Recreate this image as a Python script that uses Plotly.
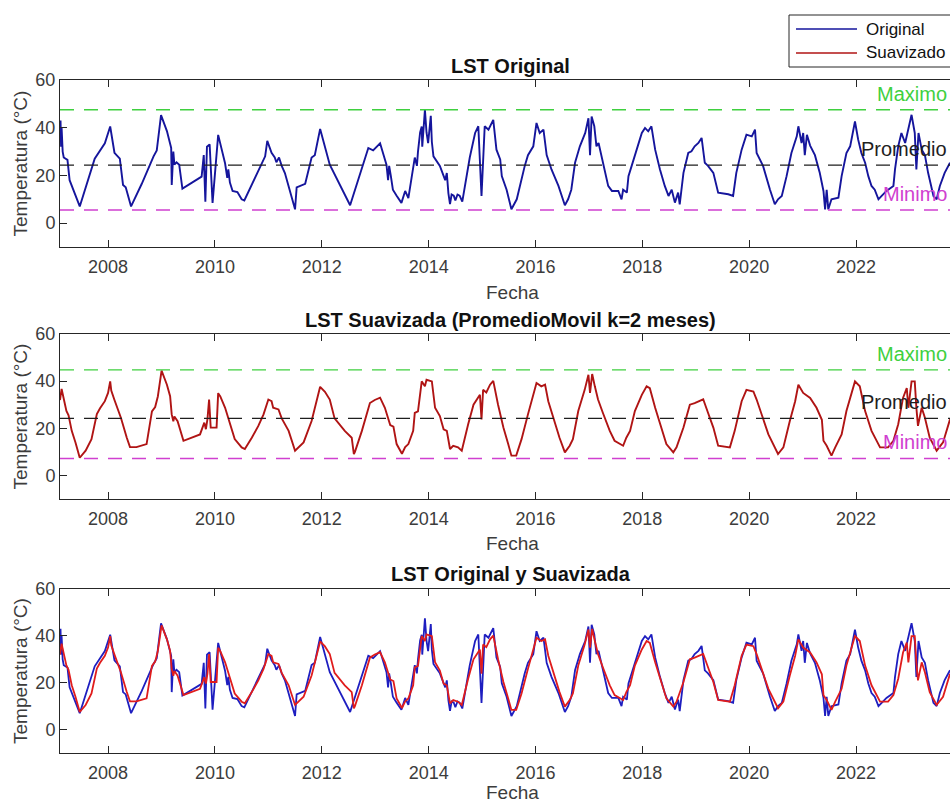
import plotly.graph_objects as go
from datetime import datetime

# ---------------- data ----------------
orig_year = [
    2007.10, 2007.11, 2007.12, 2007.13, 2007.15, 2007.17, 2007.24, 2007.28, 2007.47, 2007.75,
    2007.94, 2008.04, 2008.12, 2008.22, 2008.28, 2008.33, 2008.43, 2008.63, 2008.85, 2008.91,
    2008.99, 2009.10, 2009.18, 2009.19, 2009.22, 2009.24, 2009.28, 2009.33, 2009.39, 2009.75,
    2009.79, 2009.82, 2009.85, 2009.90, 2009.955, 2010.06, 2010.19, 2010.23, 2010.25, 2010.28,
    2010.33, 2010.42, 2010.50, 2010.55, 2010.94, 2010.98, 2011.06, 2011.12, 2011.15, 2011.20,
    2011.25, 2011.31, 2011.50, 2011.53, 2011.69, 2011.81, 2011.87, 2011.97, 2012.15, 2012.53,
    2012.87, 2012.96, 2013.09, 2013.18, 2013.21, 2013.24, 2013.26, 2013.29, 2013.33, 2013.40,
    2013.49, 2013.56, 2013.62, 2013.74, 2013.78, 2013.80, 2013.84, 2013.87, 2013.88, 2013.93,
    2013.96, 2013.99, 2014.04, 2014.06, 2014.09, 2014.21, 2014.28, 2014.31, 2014.34, 2014.37,
    2014.40, 2014.43, 2014.47, 2014.50, 2014.54, 2014.58, 2014.63, 2014.77, 2014.87, 2014.93,
    2014.99, 2015.05, 2015.12, 2015.21, 2015.27, 2015.34, 2015.37, 2015.46, 2015.55, 2015.65,
    2015.80, 2015.86, 2015.96, 2016.02, 2016.08, 2016.15, 2016.21, 2016.30, 2016.43, 2016.55,
    2016.61, 2016.67, 2016.74, 2016.83, 2016.93, 2016.99, 2017.02, 2017.05, 2017.10, 2017.14,
    2017.18, 2017.27, 2017.36, 2017.43, 2017.55, 2017.61, 2017.64, 2017.71, 2017.74, 2017.80,
    2017.92, 2017.99, 2018.05, 2018.11, 2018.17, 2018.24, 2018.33, 2018.42, 2018.49, 2018.55,
    2018.61, 2018.67, 2018.70, 2018.77, 2018.86, 2018.92, 2018.98, 2019.05, 2019.11, 2019.17,
    2019.23, 2019.33, 2019.42, 2019.61, 2019.70, 2019.76, 2019.86, 2019.95, 2020.05, 2020.11,
    2020.14, 2020.26, 2020.39, 2020.48, 2020.54, 2020.61, 2020.70, 2020.79, 2020.89, 2020.92,
    2020.98, 2021.01, 2021.04, 2021.08, 2021.14, 2021.23, 2021.32, 2021.39, 2021.42, 2021.45,
    2021.48, 2021.54, 2021.67, 2021.73, 2021.82, 2021.89, 2021.98, 2022.04, 2022.10, 2022.17,
    2022.23, 2022.29, 2022.35, 2022.42, 2022.48, 2022.57, 2022.70, 2022.73, 2022.79, 2022.85,
    2022.92, 2022.98, 2023.04, 2023.10, 2023.13, 2023.17, 2023.23, 2023.29, 2023.35, 2023.45,
    2023.51, 2023.57, 2023.66, 2023.76,
]
orig_temp = [
    35.0, 43.0, 32.0, 40.0, 30.0, 27.5, 26.5, 18.0, 7.0, 27.0,
    33.5, 40.5, 29.5, 27.0, 16.0, 15.0, 7.0, 16.5, 28.0, 30.5,
    45.3, 38.6, 31.5, 16.0, 30.0, 24.5, 25.5, 24.5, 14.5, 19.5,
    28.5, 9.0, 32.0, 33.0, 8.5, 37.0, 25.0, 19.0, 22.5, 17.0,
    13.5, 13.0, 10.0, 9.5, 28.0, 34.5, 29.5, 27.5, 25.5, 27.5,
    24.0, 21.0, 5.8, 15.0, 16.5, 27.5, 28.5, 39.5, 24.5, 7.5,
    31.5, 30.5, 33.5, 27.0, 24.5, 18.0, 24.0, 20.0, 14.0, 11.5,
    8.5, 13.5, 10.5, 27.5, 24.0, 30.0, 38.0, 40.5, 32.0, 47.5,
    38.0, 33.5, 45.0, 34.0, 28.0, 24.0, 20.0, 18.0, 21.0, 12.5,
    8.0, 12.0, 11.5, 9.5, 12.0, 11.5, 9.0, 27.5, 37.8, 40.6,
    11.4, 40.6, 39.2, 43.3, 30.8, 26.7, 19.7, 14.0, 5.8, 10.0,
    24.0, 28.5, 32.2, 42.0, 37.8, 39.2, 28.5, 22.5, 15.6, 7.5,
    10.0, 14.0, 25.3, 32.2, 37.8, 44.0, 28.5, 44.7, 40.6, 32.2,
    33.6, 24.0, 15.6, 13.5, 13.5, 10.0, 14.0, 12.8, 19.7, 24.0,
    32.2, 37.8, 39.9, 38.5, 40.6, 30.8, 22.5, 15.6, 11.4, 14.0,
    8.6, 12.8, 7.9, 21.1, 29.4, 30.1, 32.2, 33.6, 35.7, 25.3,
    24.0, 21.1, 12.8, 12.1, 11.4, 21.1, 30.8, 37.1, 36.4, 39.2,
    29.4, 24.0, 14.0, 7.9, 10.0, 11.4, 19.7, 29.4, 36.4, 40.6,
    33.6, 37.8, 28.5, 37.0, 32.5, 28.5, 21.1, 13.5, 5.8, 14.0,
    5.8, 10.0, 10.7, 19.7, 29.4, 32.2, 42.6, 35.0, 29.4, 25.3,
    19.7, 15.6, 14.0, 10.0, 11.4, 13.5, 15.6, 22.5, 32.2, 37.8,
    33.6, 39.2, 45.4, 37.8, 22.5, 37.8, 30.8, 28.5, 21.1, 11.4,
    10.0, 15.6, 21.1, 25.3,
]

smooth_year = [
    2007.10, 2007.13, 2007.17, 2007.22, 2007.26, 2007.32, 2007.39, 2007.47, 2007.58, 2007.69,
    2007.79, 2007.85, 2007.94, 2008.00, 2008.04, 2008.06, 2008.12, 2008.24, 2008.35, 2008.41,
    2008.53, 2008.72, 2008.82, 2008.88, 2008.93, 2009.00, 2009.10, 2009.16, 2009.19, 2009.22,
    2009.24, 2009.28, 2009.30, 2009.41, 2009.56, 2009.72, 2009.80, 2009.83, 2009.86, 2009.89,
    2009.92, 2009.97, 2010.03, 2010.06, 2010.10, 2010.19, 2010.25, 2010.31, 2010.37, 2010.50,
    2010.56, 2010.69, 2010.81, 2010.91, 2011.00, 2011.06, 2011.09, 2011.19, 2011.25, 2011.38,
    2011.50, 2011.66, 2011.81, 2011.97, 2012.06, 2012.15, 2012.24, 2012.43, 2012.56, 2012.60,
    2012.62, 2012.75, 2012.90, 2012.99, 2013.09, 2013.18, 2013.28, 2013.34, 2013.40, 2013.50,
    2013.56, 2013.62, 2013.71, 2013.74, 2013.80, 2013.87, 2013.93, 2013.96, 2014.06, 2014.12,
    2014.21, 2014.28, 2014.34, 2014.40, 2014.46, 2014.55, 2014.62, 2014.74, 2014.84, 2014.96,
    2014.99, 2015.02, 2015.08, 2015.15, 2015.21, 2015.30, 2015.40, 2015.49, 2015.55, 2015.64,
    2015.74, 2015.86, 2016.02, 2016.11, 2016.18, 2016.24, 2016.36, 2016.45, 2016.55, 2016.64,
    2016.70, 2016.80, 2016.92, 2016.99, 2017.02, 2017.06, 2017.11, 2017.17, 2017.26, 2017.39,
    2017.48, 2017.64, 2017.70, 2017.77, 2017.86, 2017.99, 2018.08, 2018.14, 2018.24, 2018.33,
    2018.45, 2018.58, 2018.64, 2018.77, 2018.89, 2018.98, 2019.14, 2019.23, 2019.33, 2019.42,
    2019.64, 2019.73, 2019.86, 2019.95, 2020.08, 2020.14, 2020.23, 2020.36, 2020.54, 2020.64,
    2020.76, 2020.86, 2020.92, 2021.01, 2021.14, 2021.26, 2021.36, 2021.39, 2021.45, 2021.54,
    2021.61, 2021.73, 2021.82, 2021.98, 2022.07, 2022.17, 2022.29, 2022.45, 2022.60, 2022.70,
    2022.79, 2022.88, 2022.95, 2022.98, 2023.04, 2023.10, 2023.13, 2023.16, 2023.23, 2023.29,
    2023.38, 2023.51, 2023.63, 2023.76,
]
smooth_temp = [
    32.0, 36.7, 32.5, 27.4, 25.5, 18.9, 14.0, 7.5, 10.5, 15.4,
    26.0, 28.5, 31.5, 35.0, 39.9, 36.0, 32.0, 24.5, 16.0, 12.0,
    12.0, 13.3, 27.2, 29.0, 33.5, 44.5, 38.5, 33.6, 25.9, 23.0,
    25.0, 23.5, 23.0, 14.7, 16.0, 17.4, 22.4, 19.6, 24.0, 32.2,
    20.3, 20.3, 20.3, 34.9, 33.5, 28.7, 24.2, 18.9, 15.4, 11.9,
    11.2, 16.0, 20.9, 25.9, 32.2, 31.5, 28.7, 28.0, 24.2, 18.9,
    10.5, 14.0, 23.1, 37.6, 35.5, 32.2, 24.2, 18.9, 16.0, 9.0,
    10.0, 18.9, 30.7, 32.0, 33.0, 28.7, 21.4, 20.7, 13.3, 9.2,
    12.0, 13.3, 18.9, 26.5, 27.2, 39.9, 37.8, 40.6, 39.9, 28.7,
    25.2, 19.6, 18.9, 11.2, 12.6, 11.9, 10.5, 21.7, 30.0, 34.2,
    23.8, 36.3, 35.2, 38.5, 40.1, 30.0, 20.3, 13.3, 8.4, 8.4,
    15.4, 25.9, 39.2, 37.8, 38.5, 31.5, 22.4, 16.0, 9.8, 12.6,
    15.4, 27.3, 36.3, 42.7, 35.0, 43.0, 37.8, 32.2, 26.6, 18.9,
    14.7, 12.6, 16.0, 18.9, 27.3, 34.2, 37.8, 37.0, 28.7, 21.7,
    13.3, 9.8, 11.9, 20.3, 30.0, 30.7, 32.3, 26.6, 20.3, 12.6,
    11.9, 18.9, 31.5, 36.3, 35.6, 32.2, 25.9, 17.4, 9.1, 11.9,
    23.1, 31.5, 38.5, 35.0, 32.9, 28.7, 23.6, 14.7, 12.6, 8.4,
    11.9, 17.4, 27.3, 39.9, 37.8, 27.3, 18.9, 11.9, 11.9, 14.7,
    21.7, 32.9, 37.1, 28.7, 39.9, 39.9, 28.7, 21.0, 28.7, 24.5,
    16.0, 10.5, 14.0, 23.8,
]

tick_years = [2008, 2010, 2012, 2014, 2016, 2018, 2020, 2022]
y_ticks = [0, 20, 40, 60]
x_limits = [2007.10, 2023.76]
y_limits = [-10, 60]

ref_labels = ["Maximo", "Promedio", "Minimo"]
ref_orig = [47.5, 24.3, 5.5]
ref_smooth = [44.8, 24.2, 7.2]

titles = ["LST Original", "LST Suavizada (PromedioMovil k=2 meses)", "LST Original y Suavizada"]
legend_names = ["Original", "Suavizado"]

# ---------------- helpers ----------------
def to_date(y):
    yi = int(y)
    a = datetime(yi, 1, 1)
    b = datetime(yi + 1, 1, 1)
    return (a + (b - a) * (y - yi)).strftime("%Y-%m-%d %H:%M")

orig_x = [to_date(v) for v in orig_year]
smooth_x = [to_date(v) for v in smooth_year]

W, H = 950, 805
L = 60
PW = W - L

def px_x(px):
    return (px - L) / PW

def px_y(py):
    return 1 - py / H

FONT = "Liberation Sans, Arial, Helvetica, sans-serif"
AX = "#262626"
TXT = "#3c3c3c"
BLUE1 = "#15159c"
RED1 = "#b01414"
BLUE3 = "#1e1ec0"
RED3 = "#e01c1c"
GREEN = "#3fd03f"
MAG = "#d040d0"

panels = [(80, 247), (334, 499), (589, 753)]

fig = go.Figure()

fig.add_trace(go.Scatter(x=orig_x, y=orig_temp, mode="lines", line=dict(color=BLUE1, width=1.9),
                         name=legend_names[0], showlegend=False, xaxis="x", yaxis="y"))
fig.add_trace(go.Scatter(x=smooth_x, y=smooth_temp, mode="lines", line=dict(color=RED1, width=1.9),
                         name=legend_names[1], showlegend=False, xaxis="x2", yaxis="y2"))
fig.add_trace(go.Scatter(x=orig_x, y=orig_temp, mode="lines", line=dict(color=BLUE3, width=1.8),
                         name=legend_names[0], showlegend=False, xaxis="x3", yaxis="y3"))
fig.add_trace(go.Scatter(x=smooth_x, y=smooth_temp, mode="lines", line=dict(color=RED3, width=1.8),
                         name=legend_names[1], showlegend=False, xaxis="x3", yaxis="y3"))

layout = dict(
    width=W, height=H,
    margin=dict(l=L, r=0, t=0, b=0, pad=0, autoexpand=False),
    paper_bgcolor="white", plot_bgcolor="white",
    font=dict(family=FONT, color=TXT),
    showlegend=False,
)

tickvals = [to_date(y) for y in tick_years]
ticktext = [str(y) for y in tick_years]

for i, (top, bot) in enumerate(panels):
    sfx = "" if i == 0 else str(i + 1)
    layout["xaxis" + sfx] = dict(
        type="date", domain=[0, 1], anchor="y" + sfx,
        range=[to_date(x_limits[0]), to_date(x_limits[1])],
        tickvals=tickvals, ticktext=ticktext,
        ticks="inside", ticklen=7, tickwidth=1, tickcolor=AX,
        showline=True, linecolor=AX, linewidth=1, mirror="ticks",
        showgrid=False, zeroline=False, automargin=False,
        tickfont=dict(size=18, color=TXT, family=FONT),
        ticklabelstandoff=3,
    )
    layout["yaxis" + sfx] = dict(
        domain=[px_y(bot), px_y(top)], anchor="x" + sfx,
        range=y_limits, tickvals=y_ticks,
        ticks="inside", ticklen=7, tickwidth=1, tickcolor=AX,
        showline=True, linecolor=AX, linewidth=1, mirror=False,
        showgrid=False, zeroline=False, automargin=False,
        tickfont=dict(size=18, color=TXT, family=FONT),
    )

fig.update_layout(**layout)

shapes = []
annotations = []

ref_colors = [GREEN, "#1e1e1e", MAG]
for sfx, vals in (("", ref_orig), ("2", ref_smooth)):
    for lab, v, c in zip(ref_labels, vals, ref_colors):
        shapes.append(dict(type="line", xref="x" + sfx + " domain", yref="y" + sfx,
                           x0=0, x1=1, y0=v, y1=v,
                           line=dict(color=c, width=1.4, dash="14px,10px")))
        annotations.append(dict(text=lab, xref="paper", yref="y" + sfx,
                                x=px_x(949), y=v, xanchor="right", yanchor="middle",
                                yshift=16, showarrow=False,
                                font=dict(size=20, color=c, family=FONT)))

title_y = [66, 320, 574]
for t, ty in zip(titles, title_y):
    annotations.append(dict(text="<b>" + t + "</b>", xref="paper", yref="paper",
                            x=px_x(511), y=px_y(ty), xanchor="center", yanchor="middle",
                            showarrow=False, font=dict(size=20, color="#111111", family=FONT)))

for fy in [292, 543]:
    annotations.append(dict(text="Fecha", xref="paper", yref="paper",
                            x=px_x(512), y=px_y(fy), xanchor="center", yanchor="middle",
                            showarrow=False, font=dict(size=19, color=TXT, family=FONT)))
annotations.append(dict(text="Fecha", xref="paper", yref="paper",
                        x=px_x(512), y=0, xanchor="center", yanchor="bottom",
                        showarrow=False, font=dict(size=19, color=TXT, family=FONT)))
for top, bot in panels:
    annotations.append(dict(text="Temperatura (°C)", xref="paper", yref="paper",
                            x=px_x(20), y=px_y((top + bot) / 2), xanchor="center", yanchor="middle",
                            textangle=-90, showarrow=False,
                            font=dict(size=19, color=TXT, family=FONT)))

shapes.append(dict(type="rect", xref="paper", yref="paper",
                   x0=px_x(789), x1=px_x(975), y0=px_y(67), y1=px_y(15),
                   line=dict(color=AX, width=1), fillcolor="white"))
for name, c, ly in zip(legend_names, [BLUE1, RED1], [29, 53]):
    shapes.append(dict(type="line", xref="paper", yref="paper",
                       x0=px_x(796), x1=px_x(857), y0=px_y(ly), y1=px_y(ly),
                       line=dict(color=c, width=1.7)))
    annotations.append(dict(text=name, xref="paper", yref="paper",
                            x=px_x(864), y=px_y(ly), xanchor="left", yanchor="middle",
                            showarrow=False, font=dict(size=17, color="#111111", family=FONT)))

fig.update_layout(shapes=shapes, annotations=annotations)

fig.write_html("out.html")
